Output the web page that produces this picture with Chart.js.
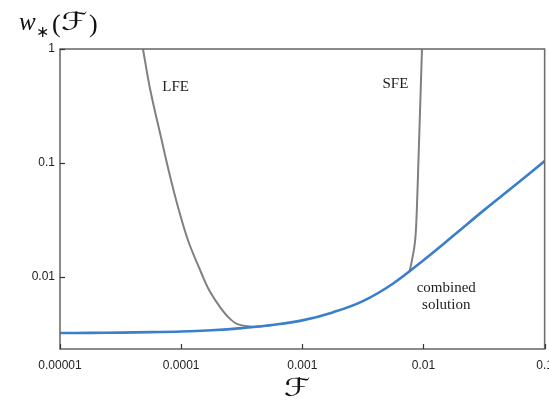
<!DOCTYPE html>
<html>
<head>
<meta charset="utf-8">
<script src="https://cdn.jsdelivr.net/npm/chart.js@4.4.1/dist/chart.umd.min.js"></script>
<style>
  html, body { margin: 0; padding: 0; background: #fff; overflow: hidden; }
  canvas { display: block; }
</style>
</head>
<body>
<canvas id="chart" width="562" height="402"></canvas>
<script>
// Axis ticks
const xTicks = [0.00001, 0.0001, 0.001, 0.01, 0.1];
const xTickLabels = ['0.00001', '0.0001', '0.001', '0.01', '0.1'];
const yTicks = [0.01, 0.1, 1];
const yTickLabels = ['0.01', '0.1', '1'];

// Combined solution (blue), read every quarter decade
const combF = [0.00001, 0.0000178, 0.0000316, 0.0000562, 0.0001, 0.000178, 0.000316, 0.000562,
               0.001, 0.00178, 0.00316, 0.00562, 0.01, 0.0178, 0.0316, 0.0562, 0.1];
const combW = [0.00323, 0.00324, 0.00326, 0.00329, 0.00333, 0.00342, 0.00357, 0.0038,
               0.00417, 0.0049, 0.00615, 0.00879, 0.01406, 0.02323, 0.03864, 0.0631, 0.1042];

// LFE branch (grey)
const lfeF = [0.0000484, 0.0000556, 0.000069, 0.0000805, 0.000094, 0.0001144, 0.000147, 0.00017,
              0.000208, 0.000243, 0.000286, 0.000367, 0.000461, 0.000562];
const lfeW = [1, 0.437, 0.159, 0.0785, 0.0414, 0.0207, 0.0108, 0.00769,
              0.0055, 0.00449, 0.0039, 0.00368, 0.00371, 0.0038];

// SFE branch (grey)
const sfeF = [0.00764, 0.00786, 0.00813, 0.0084, 0.00861, 0.00881, 0.0092, 0.00972];
const sfeW = [0.0111, 0.01249, 0.01507, 0.01833, 0.02336, 0.0387, 0.159, 1];

const toPoints = (xs, ys) => xs.map((x, i) => ({ x: x, y: ys[i] }));

// draw a glyph stretched sideways (script F is narrow in the installed fonts)
function wideGlyph(ctx, text, x, y, sx) {
    ctx.save();
    ctx.translate(x, y);
    ctx.scale(sx, 1);
    ctx.fillText(text, 0, 0);
    ctx.restore();
}

// Frame, inward ticks and text labels
const framePlugin = {
    id: 'frame',
    afterDraw(chart) {
        const ctx = chart.ctx;
        const a = chart.chartArea;
        const xs = chart.scales.x;
        const ys = chart.scales.y;
        ctx.save();
        ctx.strokeStyle = '#6e6e6e';
        ctx.lineWidth = 1.6;
        ctx.strokeRect(a.left, a.top, a.right - a.left, a.bottom - a.top);

        // inward ticks
        ctx.lineWidth = 1.2;
        ctx.strokeStyle = '#333';
        xTicks.forEach(v => {
            const px = Math.round(xs.getPixelForValue(v)) + 0.5;
            ctx.beginPath();
            ctx.moveTo(px, a.bottom);
            ctx.lineTo(px, a.bottom - 5);
            ctx.stroke();
        });
        yTicks.forEach(v => {
            const py = Math.round(ys.getPixelForValue(v)) + 0.5;
            ctx.beginPath();
            ctx.moveTo(a.left, py);
            ctx.lineTo(a.left + 5, py);
            ctx.stroke();
        });

        // curve labels
        ctx.fillStyle = '#222';
        ctx.textAlign = 'center';
        ctx.textBaseline = 'middle';
        ctx.font = '15px "Liberation Serif", "DejaVu Serif", serif';
        ctx.fillText('LFE', xs.getPixelForValue(0.00009), ys.getPixelForValue(0.46));
        ctx.fillText('SFE', xs.getPixelForValue(0.00586), ys.getPixelForValue(0.49));
        ctx.fillText('combined', xs.getPixelForValue(0.0154), ys.getPixelForValue(0.0080));
        ctx.fillText('solution', xs.getPixelForValue(0.0154), ys.getPixelForValue(0.0057));

        // y axis title  w*(F)
        ctx.textAlign = 'left';
        ctx.textBaseline = 'alphabetic';
        ctx.fillStyle = '#111';
        ctx.font = 'italic 25px "Liberation Serif", "DejaVu Serif", serif';
        ctx.fillText('w', 19, 30);
        ctx.font = '16px "DejaVu Sans", sans-serif';
        ctx.fillText('\u2217', 36, 37);
        ctx.font = '26px "Liberation Serif", "DejaVu Serif", serif';
        ctx.fillText('(', 52, 32);
        ctx.font = '25px "DejaVu Sans", "Noto Sans", serif';
        wideGlyph(ctx, '\u2131', 61, 30, 1.35);
        ctx.font = '26px "Liberation Serif", "DejaVu Serif", serif';
        ctx.fillText(')', 89, 32);

        // x axis title
        ctx.textAlign = 'center';
        ctx.font = '25px "DejaVu Sans", "Noto Sans", serif';
        wideGlyph(ctx, '\u2131', 297, 396, 1.35);
        ctx.restore();
    }
};

const chart = new Chart(document.getElementById('chart'), {
    type: 'line',
    data: {
        datasets: [
            {
                label: 'LFE',
                data: toPoints(lfeF, lfeW),
                borderColor: '#808080',
                borderWidth: 2,
                pointRadius: 0,
                tension: 0.35,
                order: 2
            },
            {
                label: 'SFE',
                data: toPoints(sfeF, sfeW),
                borderColor: '#808080',
                borderWidth: 2,
                pointRadius: 0,
                tension: 0.25,
                order: 2
            },
            {
                label: 'combined solution',
                data: toPoints(combF, combW),
                borderColor: '#3a7fcc',
                borderWidth: 2.6,
                pointRadius: 0,
                tension: 0.4,
                order: 1
            }
        ]
    },
    options: {
        responsive: false,
        animation: false,
        layout: { padding: { top: 49, right: 16, left: 0, bottom: 0 } },
        plugins: {
            legend: { display: false },
            tooltip: { enabled: false }
        },
        scales: {
            x: {
                type: 'logarithmic',
                min: 0.00001,
                max: 0.1,
                grid: { display: false, drawTicks: false },
                border: { display: false },
                afterBuildTicks: scale => { scale.ticks = xTicks.map(v => ({ value: v })); },
                afterFit: scale => { scale.height = 53; },
                ticks: {
                    padding: 9,
                    maxRotation: 0,
                    autoSkip: false,
                    color: '#222',
                    font: { family: '"Liberation Sans", Arial, sans-serif', size: 12 },
                    callback: (v) => {
                        const i = xTicks.findIndex(t => Math.abs(t - v) / t < 1e-6);
                        return i >= 0 ? xTickLabels[i] : '';
                    }
                }
            },
            y: {
                type: 'logarithmic',
                min: 0.00234,
                max: 1,
                grid: { display: false, drawTicks: false },
                border: { display: false },
                afterBuildTicks: scale => { scale.ticks = yTicks.map(v => ({ value: v })); },
                afterFit: scale => { scale.width = 60; },
                ticks: {
                    padding: 5,
                    autoSkip: false,
                    color: '#222',
                    font: { family: '"Liberation Sans", Arial, sans-serif', size: 12 },
                    callback: (v) => {
                        const i = yTicks.findIndex(t => Math.abs(t - v) / t < 1e-6);
                        return i >= 0 ? yTickLabels[i] : '';
                    }
                }
            }
        }
    },
    plugins: [framePlugin]
});
</script>
</body>
</html>
